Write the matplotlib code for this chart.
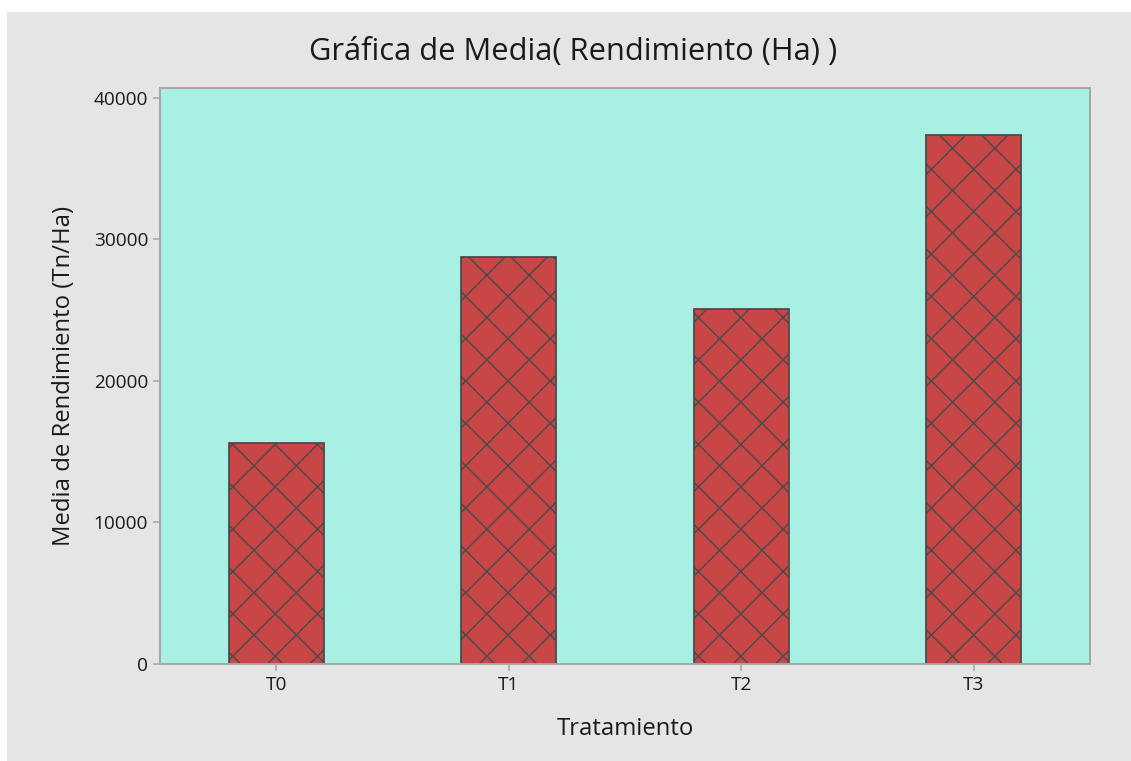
import matplotlib

matplotlib.use("Agg")
import matplotlib.pyplot as plt  # noqa: E402
from matplotlib.patches import Rectangle  # noqa: E402

tratamientos = ["T0", "T1", "T2", "T3"]
medias = [15650, 28750, 25080, 37360]
y_ticks = [0, 10000, 20000, 30000, 40000]

# dpi picked so the 'x' hatch spacing matches the reference (~32 px)
DPI = 127
W, H = 1131, 761

plt.rcParams["font.family"] = ["Open Sans", "DejaVu Sans"]
plt.rcParams["hatch.linewidth"] = 0.8

fig = plt.figure(figsize=(W / DPI, H / DPI), dpi=DPI)
fig.patch.set_facecolor("white")
fig.patches.append(
    Rectangle((7 / W, 0), 1 - 7 / W, 1 - 12 / H, transform=fig.transFigure,
              facecolor="#e5e5e5", edgecolor="none", zorder=-5)
)

ax = fig.add_axes([160 / W, 1 - 664 / H, 930 / W, 576 / H])
ax.set_zorder(2)
ax.set_facecolor("#a8f0e4")
ax.bar(range(len(tratamientos)), medias, width=0.41, color="#c84646",
       edgecolor="#4a4a4a", hatch="x", linewidth=1.0, zorder=2)

ax.set_xlim(-0.5, 3.5)
ax.set_ylim(0, 40700)
ax.set_xticks(range(len(tratamientos)))
ax.set_xticklabels(tratamientos)
ax.set_yticks(y_ticks)
ax.set_yticklabels([str(v) for v in y_ticks])

for s in ax.spines.values():
    s.set_color("#a6a6a6")
    s.set_linewidth(1.1)
ax.tick_params(colors="#a6a6a6", labelcolor="#1a1a1a", labelsize=10.8,
               length=3.7, width=0.9, pad=3)

ax.set_xlabel("Tratamiento", fontsize=13.5, color="#1a1a1a", labelpad=13)
ax.set_ylabel("Media de Rendimiento (Tn/Ha)", fontsize=13.5, color="#1a1a1a", labelpad=10)
fig.text(573 / W, 1 - 52 / H, "Gráfica de Media( Rendimiento (Ha) )",
         ha="center", va="center", fontsize=17.5, color="#1a1a1a")

fig.savefig("out.png", dpi=DPI)
